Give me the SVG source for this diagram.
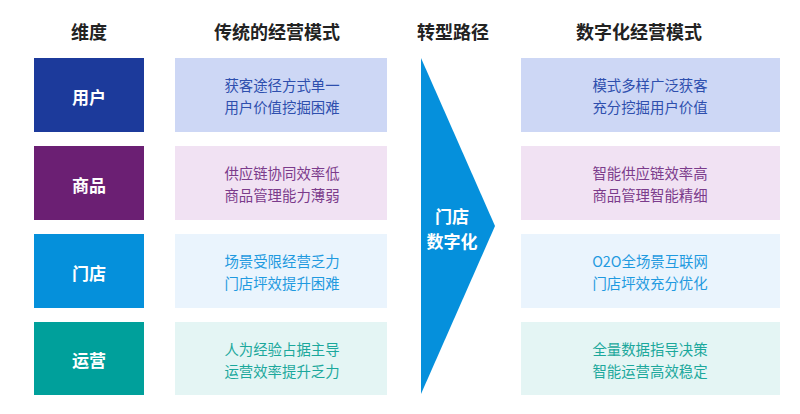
<svg xmlns="http://www.w3.org/2000/svg" width="800" height="414" viewBox="0 0 800 414">
<style>
text{font-family:"Noto Sans CJK SC","Noto Sans",sans-serif;text-anchor:middle;dominant-baseline:central}
.h{font-size:18px;font-weight:bold;fill:#222}
.d{font-size:17px;font-weight:bold;fill:#fff}
.t{font-size:14.4px}
</style>
<rect width="800" height="414" fill="#fff"/>
<g id="headers">
<text class="h" x="89" y="31">维度</text>
<text class="h" x="277" y="31">传统的经营模式</text>
<text class="h" x="453" y="31">转型路径</text>
<text class="h" x="639" y="31">数字化经营模式</text>
</g>
<g id="row-user">
<rect x="34" y="58" width="110" height="74" fill="#1c3a9b"/>
<text class="d" x="89" y="96">用户</text>
<rect x="175" y="58" width="212" height="74" fill="#cdd7f5"/>
<text class="t" x="282" y="84" fill="#2e4fae">获客途径方式单一</text>
<text class="t" x="282" y="106" fill="#2e4fae">用户价值挖掘困难</text>
<rect x="521" y="58" width="259" height="74" fill="#cdd7f5"/>
<text class="t" x="650" y="84" fill="#2e4fae">模式多样广泛获客</text>
<text class="t" x="650" y="106" fill="#2e4fae">充分挖掘用户价值</text>
</g>
<g id="row-goods">
<rect x="34" y="146" width="110" height="74" fill="#6b1f73"/>
<text class="d" x="89" y="184">商品</text>
<rect x="175" y="146" width="212" height="74" fill="#f1e2f3"/>
<text class="t" x="282" y="172" fill="#7b3b8b">供应链协同效率低</text>
<text class="t" x="282" y="194" fill="#7b3b8b">商品管理能力薄弱</text>
<rect x="521" y="146" width="259" height="74" fill="#f1e2f3"/>
<text class="t" x="650" y="172" fill="#7b3b8b">智能供应链效率高</text>
<text class="t" x="650" y="194" fill="#7b3b8b">商品管理智能精细</text>
</g>
<g id="row-store">
<rect x="34" y="234" width="110" height="74" fill="#0590db"/>
<text class="d" x="89" y="272">门店</text>
<rect x="175" y="234" width="212" height="74" fill="#eaf4fd"/>
<text class="t" x="282" y="260" fill="#1f9ae0">场景受限经营乏力</text>
<text class="t" x="282" y="282" fill="#1f9ae0">门店坪效提升困难</text>
<rect x="521" y="234" width="259" height="74" fill="#eaf4fd"/>
<text class="t" x="650" y="260" fill="#1f9ae0">O2O全场景互联网</text>
<text class="t" x="650" y="282" fill="#1f9ae0">门店坪效充分优化</text>
</g>
<g id="row-ops">
<rect x="34" y="322" width="110" height="73" fill="#00a09b"/>
<text class="d" x="89" y="359">运营</text>
<rect x="175" y="322" width="212" height="73" fill="#e4f5f4"/>
<text class="t" x="282" y="348" fill="#1ba89c">人为经验占据主导</text>
<text class="t" x="282" y="370" fill="#1ba89c">运营效率提升乏力</text>
<rect x="521" y="322" width="259" height="73" fill="#e4f5f4"/>
<text class="t" x="650" y="348" fill="#1ba89c">全量数据指导决策</text>
<text class="t" x="650" y="370" fill="#1ba89c">智能运营高效稳定</text>
</g>
<g id="arrow">
<polygon points="421,58 495,226 421,394" fill="#0590dc"/>
<text class="d" x="452" y="215">门店</text>
<text class="d" x="452" y="240">数字化</text>
</g>
</svg>
